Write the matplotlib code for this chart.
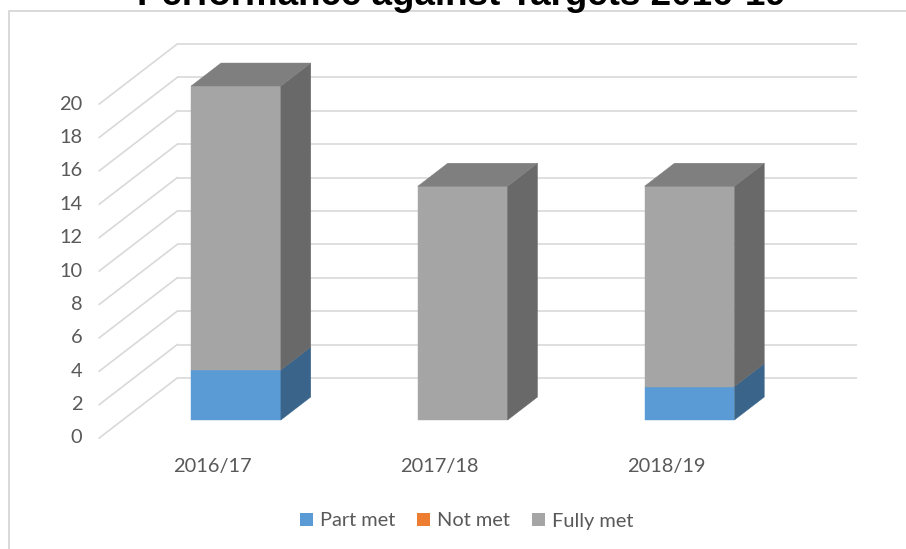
import matplotlib
matplotlib.use("Agg")
import matplotlib.pyplot as plt
from matplotlib.patches import Polygon, Patch, Rectangle

# === DONNEES ===
categories = ["2016/17", "2017/18", "2018/19"]
part_met = [3, 0, 2]
not_met = [0, 0, 0]
fully_met = [17, 14, 12]
series_names = ["Part met", "Not met", "Fully met"]
y_ticks = list(range(0, 21, 2))

# couleurs (face avant, face laterale, dessus)
colors = {
    "Part met": ("#5B9BD5", "#3A6489", "#4A80B0"),
    "Not met": ("#ED7D31", "#A85722", "#C96A29"),
    "Fully met": ("#A5A5A5", "#696969", "#7F7F7F"),
}
grid_color = "#D9D9D9"
text_color = "#595959"

# === GEOMETRIE PSEUDO-3D ===
DX = 78 / 226.75   # decalage horizontal pour une profondeur complete (unites x)
DV = 60 / 16.7     # decalage vertical pour une profondeur complete (unites y)
half_w = 0.198
z_front, z_back = 0.30, 0.683


def proj(x, v, z):
    return (x + DX * z, v + DV * z)


fig = plt.figure(figsize=(9.06, 5.49), dpi=100)
ax = fig.add_axes([0, 0, 1, 1])
ax.axis("off")
ax.set_xlim(-0.9376, 3.058)
ax.set_ylim(-6.647, 26.228)

# bordure de la zone graphique
fig.patches.append(Rectangle((8.5 / 906, -0.1), 1.2, 1.1 - 11 / 549,
                             transform=fig.transFigure, fill=False,
                             edgecolor=grid_color, linewidth=1.4))

x_left, x_right = -0.5, 2.5
for t in y_ticks:
    # mur du fond
    p0 = proj(x_left, t, 1)
    p1 = proj(x_right, t, 1)
    ax.plot([p0[0], p1[0]], [p0[1], p1[1]], color=grid_color, lw=1.2,
            solid_capstyle="butt", zorder=1)
    # mur de gauche
    q0 = proj(x_left, t, 0)
    ax.plot([q0[0], p0[0]], [q0[1], p0[1]], color=grid_color, lw=1.2, zorder=1)
    ax.text(x_left - 0.075, t, str(t), ha="right", va="center",
            fontsize=14.4, color=text_color, family="Lato")

# barres empilees
values = {"Part met": part_met, "Not met": not_met, "Fully met": fully_met}
for i, cat in enumerate(categories):
    bottom = 0
    segs = [(name, values[name][i]) for name in series_names if values[name][i] > 0]
    for k, (name, val) in enumerate(segs):
        front, side, top = colors[name]
        x0, x1 = i - half_w, i + half_w
        v0, v1 = bottom, bottom + val
        f = [proj(x0, v0, z_front), proj(x1, v0, z_front),
             proj(x1, v1, z_front), proj(x0, v1, z_front)]
        s = [proj(x1, v0, z_front), proj(x1, v0, z_back),
             proj(x1, v1, z_back), proj(x1, v1, z_front)]
        ax.add_patch(Polygon(f, closed=True, facecolor=front, edgecolor=front,
                             lw=0.3, zorder=3))
        ax.add_patch(Polygon(s, closed=True, facecolor=side, edgecolor=side,
                             lw=0.3, zorder=3))
        if k == len(segs) - 1:
            tp = [proj(x0, v1, z_front), proj(x1, v1, z_front),
                  proj(x1, v1, z_back), proj(x0, v1, z_back)]
            ax.add_patch(Polygon(tp, closed=True, facecolor=top, edgecolor=top,
                                 lw=0.3, zorder=3))
        bottom = v1
    ax.text(i, -1.68, cat, ha="center", va="center", fontsize=14.4,
            color=text_color, family="Lato")

# titre (coupe en haut comme dans l'original)
fig.text(461 / 906, 1 - 5 / 549, "Performance against Targets 2016-19",
         ha="center", va="baseline", fontsize=26.5, fontweight="bold",
         family="Liberation Sans", color="black")

# legende
handles = [Patch(facecolor=colors[n][0], edgecolor="none") for n in series_names]
fig.legend(handles, series_names, loc="center", ncol=3, frameon=False,
           bbox_to_anchor=(467 / 906, 1 - 521 / 549),
           prop={"family": "Lato", "size": 14.4}, labelcolor=text_color,
           handlelength=0.65, handleheight=0.65, handletextpad=0.35,
           columnspacing=1.1)

fig.savefig("out.png", dpi=100)
plt.close(fig)
